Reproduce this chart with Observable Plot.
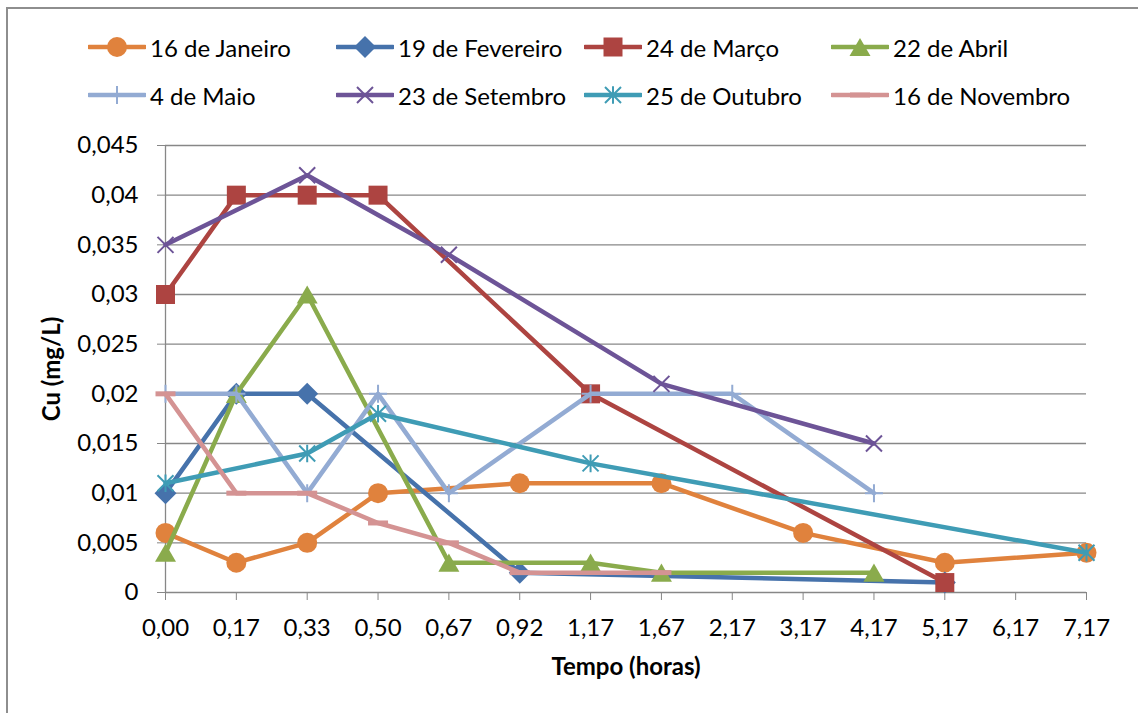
<!DOCTYPE html>
<html>
<head>
<meta charset="utf-8">
<script src="https://cdn.jsdelivr.net/npm/d3@7"></script>
<script src="https://cdn.jsdelivr.net/npm/@observablehq/plot@0.6"></script>
<style>
  body { margin: 0; background: #fff; font-family: Lato, "Open Sans", sans-serif; }
  #chart { position: relative; width: 1138px; height: 713px; overflow: hidden; background: #fff; }
  #frame { position: absolute; left: 6px; top: 7px; right: -10px; bottom: -10px;
           border-left: 2px solid #8e8e8e; border-top: 2px solid #8e8e8e; pointer-events: none; }
  #legend { position: relative; height: 120px; }
  .item { position: absolute; display: flex; align-items: center; font-size: 24px; color: #000; white-space: nowrap; }
  .item span { margin-left: 4px; }
  #chart svg { display: block; }
</style>
</head>
<body>
<div id="chart"><div id="frame"></div><div id="legend"></div></div>
<script>
// Sampling times (hours), shown as category labels
const tempo = ["0,00", "0,17", "0,33", "0,50", "0,67", "0,92", "1,17", "1,67", "2,17", "3,17", "4,17", "5,17", "6,17", "7,17"];

// Cu concentration (mg/L) per campaign; null = not measured at that time
const janeiro   = [0.006, 0.003, 0.005, 0.010, null, 0.011, null, 0.011, null, 0.006, null, 0.003, null, 0.004];
const fevereiro = [0.010, 0.020, 0.020, null, null, 0.002, null, null, null, null, null, 0.001, null, null];
const marco     = [0.030, 0.040, 0.040, 0.040, null, null, 0.020, null, null, null, null, 0.001, null, null];
const abril     = [0.004, 0.020, 0.030, null, 0.003, null, 0.003, 0.002, null, null, 0.002, null, null, null];
const maio      = [0.020, 0.020, 0.010, 0.020, 0.010, null, 0.020, null, 0.020, null, 0.010, null, null, null];
const setembro  = [0.035, null, 0.042, null, 0.034, null, null, 0.021, null, null, 0.015, null, null, null];
const outubro   = [0.011, null, 0.014, 0.018, null, null, 0.013, null, null, null, null, null, null, 0.004];
const novembro  = [0.020, 0.010, 0.010, 0.007, 0.005, 0.002, null, 0.002, null, null, null, null, null, null];

const seriesNames = ["16 de Janeiro", "19 de Fevereiro", "24 de Março", "22 de Abril",
                     "4 de Maio", "23 de Setembro", "25 de Outubro", "16 de Novembro"];
const cuTicks = [0, 0.005, 0.01, 0.015, 0.02, 0.025, 0.03, 0.035, 0.04, 0.045];

// Marker shapes (r = half extent of the marker)
const half = s => Math.sqrt(s / Math.PI);
const sym = {
  circle:   { draw(c, s) { const r = half(s); c.moveTo(r, 0); c.arc(0, 0, r, 0, 2 * Math.PI); } },
  square:   { draw(c, s) { const r = half(s); c.rect(-r, -r, 2 * r, 2 * r); } },
  diamond:  { draw(c, s) { const r = half(s); c.moveTo(0, -r); c.lineTo(r, 0); c.lineTo(0, r); c.lineTo(-r, 0); c.closePath(); } },
  triangle: { draw(c, s) { const r = half(s), h = r * 0.866; c.moveTo(0, -h); c.lineTo(r, h); c.lineTo(-r, h); c.closePath(); } },
  plus:     { draw(c, s) { const r = half(s); c.moveTo(-r, 0); c.lineTo(r, 0); c.moveTo(0, -r); c.lineTo(0, r); } },
  times:    { draw(c, s) { const r = half(s); c.moveTo(-r, -r); c.lineTo(r, r); c.moveTo(-r, r); c.lineTo(r, -r); } },
  star:     { draw(c, s) { const r = half(s); c.moveTo(-r, -r); c.lineTo(r, r); c.moveTo(-r, r); c.lineTo(r, -r); c.moveTo(0, -r * 1.1); c.lineTo(0, r * 1.1); } },
  dash:     { draw(c, s) { const r = half(s); c.moveTo(-r, 0); c.lineTo(r, 0); } }
};

const styles = [
  { values: janeiro,   color: "#E0823D", symbol: sym.circle,   r: 10,  filled: true },
  { values: fevereiro, color: "#4672AB", symbol: sym.diamond,  r: 11,  filled: true },
  { values: marco,     color: "#AD4441", symbol: sym.square,   r: 9.5, filled: true },
  { values: abril,     color: "#8AAB4C", symbol: sym.triangle, r: 10.5, filled: true },
  { values: maio,      color: "#93ABD3", symbol: sym.plus,     r: 9,   filled: false, sw: 2 },
  { values: setembro,  color: "#6D5497", symbol: sym.times,    r: 8,   filled: false, sw: 2 },
  { values: outubro,   color: "#3F9CB5", symbol: sym.star,     r: 8,   filled: false, sw: 2 },
  { values: novembro,  color: "#D49393", symbol: sym.dash,     r: 10,  filled: false, sw: 5 }
];

const series = styles.map((s, k) => ({
  ...s,
  name: seriesNames[k],
  data: s.values.map((v, i) => ({ t: tempo[i], v })).filter(d => d.v != null)
}));

const grid = "#878787";
const fmt = d => d === 0 ? "0" : String(d).replace(".", ",");

// Legend: two rows of four entries (line + marker swatch, then name)
const legend = document.getElementById("legend");
const cols = [88, 336, 584, 831];
const rowsY = [47, 95];
series.forEach((s, k) => {
  const p = d3.path();
  s.symbol.draw(p, Math.PI * s.r * s.r);
  const markAttr = s.filled
    ? `fill="${s.color}" stroke="none"`
    : `fill="none" stroke="${s.color}" stroke-width="${s.sw}"`;
  const item = document.createElement("div");
  item.className = "item";
  item.style.left = cols[k % 4] + "px";
  item.style.top = (rowsY[Math.floor(k / 4)] - 15) + "px";
  item.innerHTML =
    `<svg width="58" height="30" viewBox="0 0 58 30">` +
    `<line x1="1" x2="57" y1="15" y2="15" stroke="${s.color}" stroke-width="4.5" stroke-linecap="round"/>` +
    `<path transform="translate(29,15)" d="${p.toString()}" ${markAttr}/></svg>` +
    `<span>${s.name}</span>`;
  legend.appendChild(item);
});

const marks = [
  Plot.ruleY(cuTicks, { stroke: grid, strokeWidth: 1.3 }),
  Plot.ruleX([tempo[0]], { y1: 0, y2: 0.045, stroke: grid, strokeWidth: 1.3 }),
  Plot.axisY({ ticks: cuTicks, tickSize: 8, tickPadding: 19, tickFormat: fmt, stroke: grid, fill: "black", label: null, fontSize: 24 }),
  Plot.axisX({ tickSize: 8, tickPadding: 18, stroke: grid, fill: "black", label: null, fontSize: 24 }),
  Plot.text(["Tempo (horas)"], { frameAnchor: "bottom", dy: 75, text: d => d, fontWeight: "bold", fontSize: 24, textAnchor: "middle", lineAnchor: "middle" }),
  Plot.text(["Cu (mg/L)"], { frameAnchor: "left", dx: -113, rotate: -90, text: d => d, fontWeight: "bold", fontSize: 24, textAnchor: "middle", lineAnchor: "middle" })
];

for (const s of series) {
  marks.push(Plot.line(s.data, { x: "t", y: "v", stroke: s.color, strokeWidth: 4.5, strokeLinejoin: "round", strokeLinecap: "round" }));
  marks.push(Plot.dot(s.data, s.filled
    ? { x: "t", y: "v", symbol: s.symbol, r: s.r, fill: s.color, stroke: "none" }
    : { x: "t", y: "v", symbol: s.symbol, r: s.r, fill: "none", stroke: s.color, strokeWidth: s.sw }));
}

const chart = Plot.plot({
  width: 1138,
  height: 593,
  marginTop: 25,
  marginLeft: 165,
  marginRight: 52,
  marginBottom: 121,
  style: { fontFamily: "Lato, 'Open Sans', sans-serif", fontSize: "24px", color: "black", background: "transparent", overflow: "visible" },
  x: { type: "point", domain: tempo, padding: 0, round: false },
  y: { domain: [0, 0.045] },
  marks
});
document.getElementById("chart").appendChild(chart);
</script>
</body>
</html>
